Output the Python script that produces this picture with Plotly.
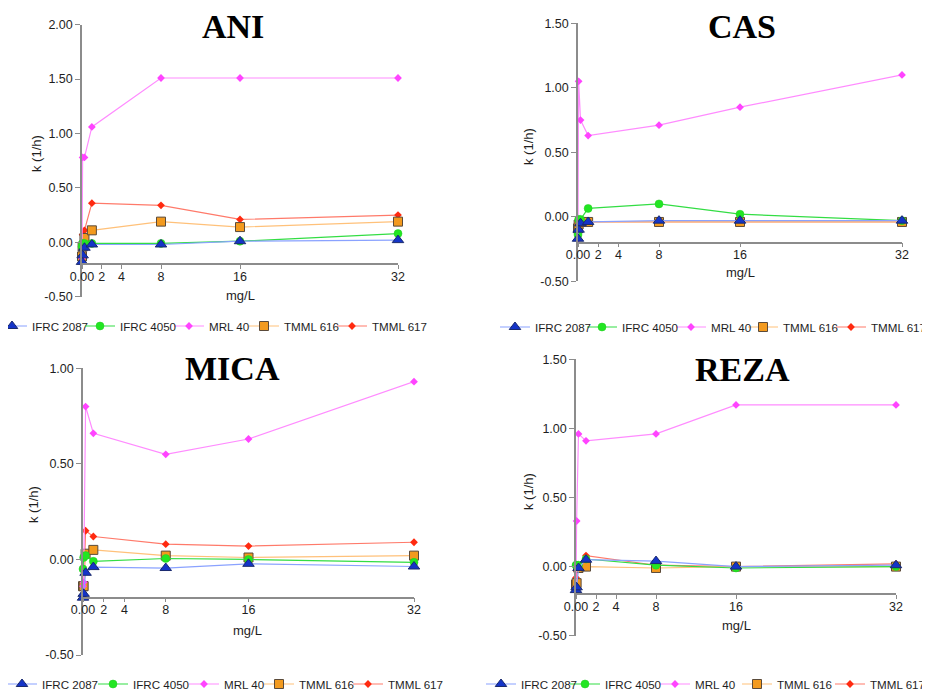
import plotly.graph_objects as go

# The page body adds an 8px offset; figure is sized to fit the window exactly.
OFF = 8
WIN_W, WIN_H = 930, 691
W, H = WIN_W - OFF, WIN_H - OFF

# ---------------- data ----------------
conc = [0, 0.0625, 0.25, 1, 8, 16, 32]
series_names = ["IFRC 2087", "IFRC 4050", "MRL 40", "TMML 616", "TMML 617"]
panel_titles = ["ANI", "CAS", "MICA", "REZA"]

ani_ifrc2087 = [-0.18, -0.12, -0.05, -0.02, -0.02, 0.01, 0.02]
ani_ifrc4050 = [-0.04, -0.01, -0.01, -0.01, -0.01, 0.01, 0.08]
ani_mrl40 = [-0.15, 0.78, 0.78, 1.06, 1.51, 1.51, 1.51]
ani_tmml616 = [-0.13, -0.04, 0.04, 0.11, 0.19, 0.14, 0.19]
ani_tmml617 = [-0.14, 0.07, 0.11, 0.36, 0.34, 0.21, 0.25]

cas_ifrc2087 = [-0.17, -0.10, -0.05, -0.04, -0.03, -0.03, -0.03]
cas_ifrc4050 = [-0.14, -0.02, -0.02, 0.065, 0.10, 0.02, -0.03]
cas_mrl40 = [-0.17, 1.05, 0.75, 0.63, 0.71, 0.85, 1.10]
cas_tmml616 = [-0.09, -0.06, -0.04, -0.04, -0.04, -0.04, -0.04]
cas_tmml617 = [-0.06, -0.05, -0.04, -0.04, -0.04, -0.04, -0.04]

mica_ifrc2087 = [-0.20, -0.18, -0.07, -0.04, -0.045, -0.023, -0.037]
mica_ifrc4050 = [-0.05, 0.01, 0.02, -0.01, 0.005, 0.0, -0.015]
mica_mrl40 = [-0.14, -0.12, 0.80, 0.66, 0.55, 0.63, 0.93]
mica_tmml616 = [-0.14, -0.14, 0.03, 0.05, 0.02, 0.01, 0.02]
mica_tmml617 = [-0.15, -0.15, 0.15, 0.12, 0.08, 0.07, 0.09]

reza_ifrc2087 = [-0.17, -0.15, -0.01, 0.05, 0.04, 0.0, 0.01]
reza_ifrc4050 = [0.01, 0.01, 0.01, 0.055, 0.01, -0.01, 0.0]
reza_mrl40 = [-0.15, 0.33, 0.96, 0.91, 0.96, 1.17, 1.17]
reza_tmml616 = [-0.13, -0.12, -0.01, 0.0, -0.01, 0.0, 0.0]
reza_tmml617 = [-0.08, -0.03, 0.0, 0.08, 0.01, 0.0, 0.02]

x_tickvals = [0, 2, 4, 8, 16, 32]
x_ticktext = ["0.00", "2", "4", "8", "16", "32"]

y_tickvals_ani = [-0.5, 0.0, 0.5, 1.0, 1.5, 2.0]
y_ticktext_ani = ["-0.50", "0.00", "0.50", "1.00", "1.50", "2.00"]
y_tickvals_cas = [-0.5, 0.0, 0.5, 1.0, 1.5]
y_ticktext_cas = ["-0.50", "0.00", "0.50", "1.00", "1.50"]
y_tickvals_mica = [-0.5, 0.0, 0.5, 1.0]
y_ticktext_mica = ["-0.50", "0.00", "0.50", "1.00"]
y_tickvals_reza = [-0.5, 0.0, 0.5, 1.0, 1.5]
y_ticktext_reza = ["-0.50", "0.00", "0.50", "1.00", "1.50"]

x_title = "mg/L"
y_title = "k (1/h)"

panel_data = [
    [ani_ifrc2087, ani_ifrc4050, ani_mrl40, ani_tmml616, ani_tmml617],
    [cas_ifrc2087, cas_ifrc4050, cas_mrl40, cas_tmml616, cas_tmml617],
    [mica_ifrc2087, mica_ifrc4050, mica_mrl40, mica_tmml616, mica_tmml617],
    [reza_ifrc2087, reza_ifrc4050, reza_mrl40, reza_tmml616, reza_tmml617],
]
panel_yticks = [
    (y_tickvals_ani, y_ticktext_ani),
    (y_tickvals_cas, y_ticktext_cas),
    (y_tickvals_mica, y_ticktext_mica),
    (y_tickvals_reza, y_ticktext_reza),
]
x_cross = -0.2

# ---------------- styles / layout geometry (window pixels) ----------------
styles = [
    dict(symbol="triangle-up", size=10, color="#1434c8", line=dict(color="#1a2a6e", width=1), lc="#8aa2ff"),
    dict(symbol="circle", size=8, color="#22e622", line=dict(color="#22cc22", width=0.5), lc="#33dd44"),
    dict(symbol="diamond", size=6, color="#ff44ff", line=dict(color="#ff44ff", width=0), lc="#ff8cff"),
    dict(symbol="square", size=9, color="#f39a1e", line=dict(color="#5a4a3a", width=1), lc="#ffc17a"),
    dict(symbol="diamond", size=6, color="#ff2a10", line=dict(color="#ff2a10", width=0), lc="#ff7a6a"),
]

# plot-area boxes: left, right, top, bottom in window pixels
panel_boxes = [
    (82, 398, 24.7, 296.7),
    (578, 902, 23.3, 281.3),
    (83, 414, 368.3, 655),
    (576, 896, 359.3, 635.7),
]
title_pos = [(233, 27), (742, 27), (232, 368), (742, 369)]
ytitle_pos = [(36, 154), (529, 147), (33, 505), (528, 492)]
xtitle_pos = [(240, 295), (740, 272), (248, 630), (736, 625)]
legend_text_x = [
    [30, 118, 207, 282, 370],
    [533, 620, 709, 781, 869],
    [40, 131, 222, 297, 386],
    [519, 603, 693, 775, 868],
]
legend_y = [326, 327, 684, 684]


def px(x):
    return (x - OFF) / W


def py(y):
    return 1 - (y - OFF) / H


FONT = "Liberation Sans, Arial, sans-serif"
TXT = "#1e1e1e"
AX = "#8c8c8c"

fig = go.Figure()
layout = dict(
    width=W, height=H,
    margin=dict(l=0, r=0, t=0, b=0, autoexpand=False),
    paper_bgcolor="white", plot_bgcolor="white",
    showlegend=True,
    annotations=[],
)

for p in range(4):
    l, r, t, b = panel_boxes[p]
    yvals, ytext = panel_yticks[p]
    ymin, ymax = yvals[0], yvals[-1]
    xd = [px(l), px(r)]
    yd = [py(b), py(t)]
    pos = yd[0] + (x_cross - ymin) / (ymax - ymin) * (yd[1] - yd[0])
    xa = "xaxis" if p == 0 else f"xaxis{p+1}"
    ya = "yaxis" if p == 0 else f"yaxis{p+1}"
    xr = "x" if p == 0 else f"x{p+1}"
    yr = "y" if p == 0 else f"y{p+1}"
    layout[xa] = dict(
        domain=xd, anchor="free", position=pos, range=[0, 32],
        tickvals=x_tickvals, ticktext=x_ticktext,
        showline=True, linecolor=AX, linewidth=1.5,
        ticks="outside", ticklen=4, tickwidth=1.2, tickcolor=AX,
        ticklabelstandoff=-3,
        showgrid=False, zeroline=False, automargin=False,
        tickfont=dict(family=FONT, size=12.5, color=TXT),
    )
    layout[ya] = dict(
        domain=yd, anchor=xr, range=[ymin, ymax],
        tickvals=yvals, ticktext=ytext,
        showline=True, linecolor=AX, linewidth=1.5,
        ticks="outside", ticklen=5, tickwidth=1.2, tickcolor=AX,
        showgrid=False, zeroline=False, automargin=False,
        tickfont=dict(family=FONT, size=12.5, color=TXT),
    )
    # traces: reversed so IFRC 2087 drawn on top
    for s in reversed(range(5)):
        st = styles[s]
        lid = "legend" if (p * 5 + s) == 0 else f"legend{p*5+s+1}"
        fig.add_trace(go.Scatter(
            x=conc, y=panel_data[p][s], name=series_names[s],
            mode="lines+markers", xaxis=xr, yaxis=yr, cliponaxis=False,
            line=dict(color=st["lc"], width=1.2),
            marker=dict(symbol=st["symbol"], size=st["size"], color=st["color"], line=st["line"]),
            legend=lid,
        ))
        layout[lid] = dict(
            x=px(legend_text_x[p][s] - 38), xanchor="left",
            y=py(legend_y[p]), yanchor="middle",
            orientation="h", bgcolor="rgba(0,0,0,0)", borderwidth=0,
            font=dict(family=FONT, size=11.6, color=TXT),
        )
    tx, ty = title_pos[p]
    layout["annotations"].append(dict(
        text=f"<b>{panel_titles[p]}</b>", x=px(tx), y=py(ty), xref="paper", yref="paper",
        xanchor="center", yanchor="middle", showarrow=False,
        font=dict(family="Liberation Serif, Times New Roman, serif", size=34, color="black"),
    ))
    ax_, ay_ = ytitle_pos[p]
    layout["annotations"].append(dict(
        text=y_title, x=px(ax_), y=py(ay_), xref="paper", yref="paper",
        xanchor="center", yanchor="middle", showarrow=False, textangle=-90,
        font=dict(family=FONT, size=13, color=TXT),
    ))
    bx, by = xtitle_pos[p]
    layout["annotations"].append(dict(
        text=x_title, x=px(bx), y=py(by), xref="paper", yref="paper",
        xanchor="center", yanchor="middle", showarrow=False,
        font=dict(family=FONT, size=13, color=TXT),
    ))

fig.update_layout(**layout)
fig.write_html("out.html")
